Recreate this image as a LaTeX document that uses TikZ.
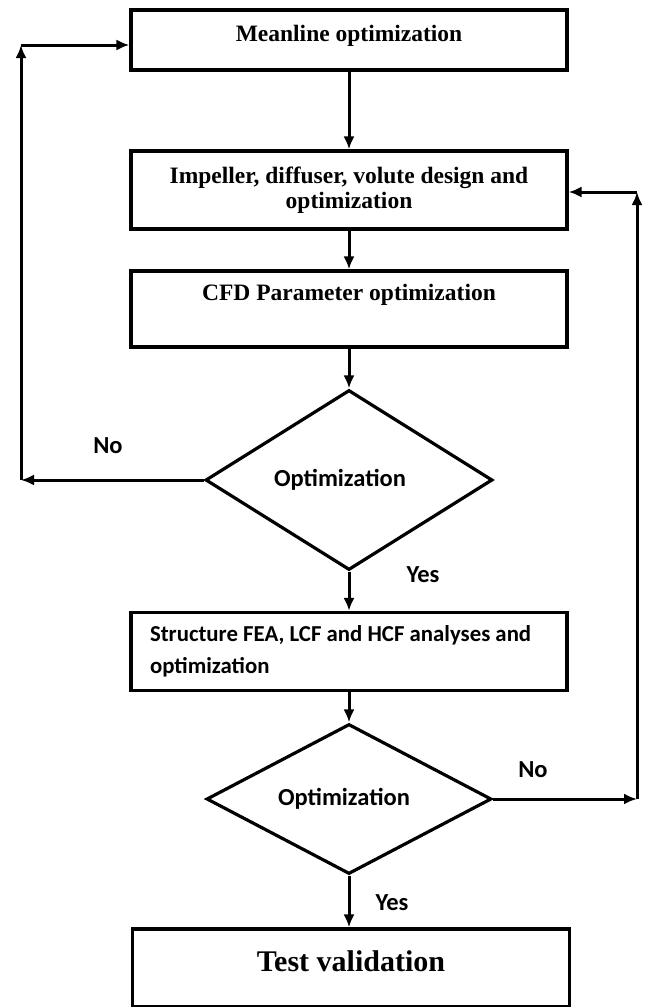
\documentclass[tikz,border=0pt]{standalone}
\usepackage{fontspec}
\setmainfont{Liberation Serif}
\newfontfamily\calibri{Carlito}
\usepackage{tikz}
\usetikzlibrary{arrows.meta}
\usetikzlibrary{shapes.geometric}
\usetikzlibrary{positioning}
\tikzset{>={Latex[length=13pt, width=11pt]}}
\tikzstyle{blk} = [rectangle, draw=black, line width=3.2pt, minimum width=436pt, inner sep=0pt, align=center, font=\bfseries\fontsize{23.5}{25}\selectfont]
\tikzstyle{dec} = [diamond, draw=black, line width=3.2pt, inner sep=0pt, aspect=1.8, font=\calibri\bfseries\fontsize{24.5}{26}\selectfont]
\tikzstyle{lbl} = [draw=none, font=\calibri\bfseries\fontsize{24.5}{26}\selectfont]
\tikzstyle{flow} = [->, line width=3pt]

\begin{document}
\begin{tikzpicture}[x=1pt, y=-1pt]
\useasboundingbox (0, 0) rectangle (646, 1007);
\node [blk, minimum height=60pt, text depth=14pt] (MO) at (349, 40) {Meanline optimization};
\node [blk, minimum height=78pt] (IDV) at (349, 190) {Impeller, diffuser, volute design and\\optimization};
\node [blk, minimum height=76pt, text depth=32.5pt] (CFD) at (349, 309) {CFD Parameter optimization};
\node [dec, minimum width=287pt, minimum height=180pt] (D1) at (349, 480) {Optimization\kern18pt};
\node [blk, minimum height=78pt, align=flush left, text width=398pt, inner xsep=19pt, font=\calibri\bfseries\fontsize{22.8}{32}\selectfont] (FEA) at (349, 651.5) {Structure FEA, LCF and HCF analyses and\\optimization};
\node [dec, minimum width=285pt, minimum height=150pt] (D2) at (349, 799) {Optimization\kern10pt};
\node [blk, minimum height=78pt, minimum width=437pt, text depth=14.5pt, font=\bfseries\fontsize{30}{32}\selectfont] (TV) at (351, 968) {Test validation};
% main line
\draw [flow] (MO.south) to (IDV.north);
\draw [flow] (IDV.south) to (CFD.north);
\draw [flow] (CFD.south) to (D1.north);
\draw [flow] (D1.south) to (FEA.north);
\draw [flow] (FEA.south) to (D2.north);
\draw [flow] (D2.south) to (D2.south |- TV.north);
% loop back to meanline
\coordinate (LB) at (21, 480);
\coordinate (LT) at (21, 45);
\draw [flow] (D1.west) to (LB);
\draw [flow] (LB) to (LT);
\draw [flow] (LT) to (LT -| MO.west);
% loop back to impeller
\coordinate (RB) at (637, 799);
\coordinate (RT) at (637, 192);
\draw [flow] (D2.east) to (RB);
\draw [flow] (RB) to (RT);
\draw [flow] (RT) to (RT -| IDV.east);
\node [lbl] (N1) at (108, 446) {No};
\node [lbl] (Y1) at (423, 575) {Yes};
\node [lbl] (N2) at (533, 770) {No};
\node [lbl] (Y2) at (392, 903) {Yes};
\end{tikzpicture}
\end{document}
